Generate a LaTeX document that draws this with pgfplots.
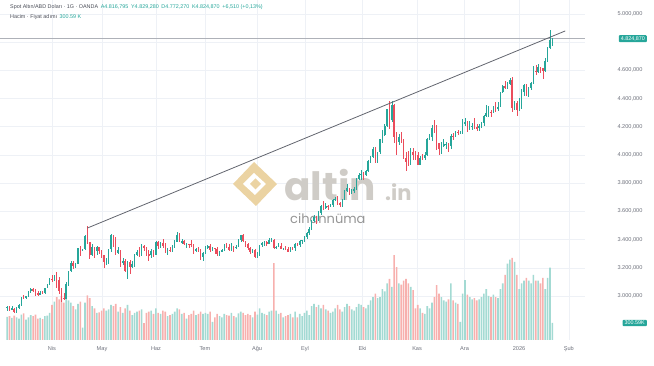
\documentclass[border=0pt]{standalone}
\usepackage{fontspec}
\setmainfont{Liberation Sans}
\newfontfamily\poppins{Poppins}
\usepackage{pgfplots}
\pgfplotsset{compat=1.18}
\usepackage{pgfplotstable}

\definecolor{upc}{HTML}{26A69A}
\definecolor{dnc}{HTML}{EB4D5C}
\definecolor{volup}{HTML}{A3DAD3}
\definecolor{voldn}{HTML}{F7B0AE}
\definecolor{gridc}{HTML}{EEF1F6}
\definecolor{lblc}{HTML}{6E717C}
\definecolor{hdr}{HTML}{4A4D57}
\definecolor{trendc}{HTML}{62656E}
\definecolor{pline}{HTML}{AEB1B8}
\definecolor{wmgray}{HTML}{CFCCC7}
\definecolor{wmgold}{HTML}{EBD3A2}
\definecolor{wmtext}{HTML}{959595}

\pgfplotstableread{
k O H L C V
-19 2918 2928 2894 2920 410
-18 2920 2930 2897 2910 420
-17 2910 2930 2899 2911 390
-16 2911 2914 2880 2889 430
-15 2889 2922 2881 2916 400
-14 2916 2940 2906 2934 380
-13 2934 2990 2932 2988 450
-12 2988 3005 2977 2984 470
-11 2984 3002 2982 3001 360
-10 3001 3038 2996 3034 400
-9 3034 3057 3022 3048 440
-8 3048 3058 3025 3044 420
-7 3044 3048 2999 3023 450
-6 3023 3036 3003 3011 380
-5 3011 3035 3004 3020 390
-4 3020 3033 3011 3019 370
-3 3019 3060 3015 3057 420
-2 3057 3087 3056 3085 430
-1 3085 3128 3076 3123 480
0 3123 3149 3100 3113 620
1 3113 3149 3105 3134 680
2 3134 3167 3054 3114 760
3 3114 3136 3015 3037 720
4 3037 3055 2957 2982 780
5 2985 3020 2970 2982 660
6 2982 3099 2980 3082 740
7 3082 3176 3073 3175 700
8 3175 3245 3172 3237 660
9 3237 3245 3194 3210 600
10 3210 3234 3202 3228 540
11 3228 3343 3225 3342 640
12 3342 3357 3284 3327 680
13 3327 3334 3318 3330 220
14 3330 3430 3324 3424 660
15 3424 3500 3367 3381 790
16 3381 3386 3260 3288 740
17 3288 3368 3287 3349 600
18 3349 3350 3268 3319 560
19 3319 3352 3293 3345 480
20 3345 3348 3298 3317 490
21 3317 3328 3268 3288 520
22 3288 3290 3202 3239 560
23 3239 3270 3223 3241 520
24 3241 3335 3230 3334 540
25 3334 3438 3315 3431 620
26 3431 3435 3347 3365 600
27 3365 3415 3290 3305 640
28 3305 3346 3295 3325 500
29 3325 3328 3208 3236 580
30 3236 3266 3220 3249 480
31 3249 3265 3170 3178 560
32 3178 3245 3120 3240 620
33 3240 3253 3155 3203 520
34 3203 3250 3198 3230 440
35 3230 3295 3205 3289 480
36 3289 3325 3285 3314 500
37 3314 3345 3277 3294 520
38 3294 3366 3287 3357 540
39 3357 3365 3320 3342 300
40 3342 3350 3285 3300 480
41 3300 3325 3245 3288 500
42 3288 3330 3271 3318 520
43 3318 3325 3278 3289 460
44 3289 3392 3289 3381 560
45 3381 3392 3333 3353 480
46 3353 3385 3343 3373 460
47 3373 3403 3339 3352 520
48 3352 3375 3307 3310 500
49 3310 3338 3293 3325 420
50 3325 3349 3314 3323 440
51 3323 3360 3312 3354 460
52 3354 3399 3340 3386 500
53 3386 3452 3384 3432 560
54 3432 3445 3384 3385 540
55 3385 3404 3368 3388 460
56 3388 3396 3363 3369 480
57 3369 3375 3339 3370 380
58 3370 3372 3340 3368 440
59 3368 3398 3347 3366 460
60 3366 3371 3295 3323 520
61 3323 3341 3312 3332 440
62 3332 3350 3309 3328 460
63 3328 3330 3255 3274 500
64 3274 3309 3247 3303 460
65 3303 3358 3297 3338 480
66 3338 3365 3333 3357 460
67 3357 3366 3311 3326 500
68 3326 3345 3322 3336 320
69 3338 3341 3296 3336 400
70 3336 3346 3287 3301 460
71 3301 3320 3283 3313 420
72 3313 3330 3310 3325 400
73 3325 3368 3322 3355 460
74 3355 3375 3341 3344 440
75 3344 3366 3320 3324 430
76 3324 3377 3319 3347 480
77 3347 3352 3310 3338 420
78 3338 3361 3332 3350 400
79 3350 3401 3344 3397 470
80 3397 3433 3383 3431 500
81 3431 3439 3381 3387 480
82 3387 3393 3351 3368 440
83 3368 3373 3325 3337 460
84 3337 3345 3301 3314 440
85 3314 3334 3308 3326 400
86 3326 3334 3268 3275 500
87 3275 3315 3268 3289 450
88 3289 3363 3281 3360 560
89 3360 3385 3347 3373 480
90 3373 3390 3354 3380 460
91 3380 3393 3358 3369 440
92 3369 3409 3367 3396 500
93 3396 3409 3381 3398 520
94 3398 3404 3336 3342 1360
95 3342 3358 3331 3348 520
96 3348 3375 3345 3356 460
97 3356 3375 3330 3335 480
98 3335 3339 3323 3336 400
99 3336 3358 3323 3332 420
100 3332 3345 3311 3315 440
101 3315 3351 3311 3348 460
102 3348 3351 3324 3339 400
103 3339 3379 3321 3372 500
104 3372 3376 3352 3365 400
105 3365 3394 3351 3393 460
106 3393 3398 3370 3397 420
107 3397 3424 3386 3416 480
108 3416 3454 3403 3448 520
109 3448 3490 3436 3476 440
110 3476 3540 3469 3533 600
111 3533 3578 3528 3560 640
112 3560 3565 3512 3545 580
113 3545 3600 3534 3587 620
114 3587 3646 3578 3636 560
115 3636 3674 3613 3626 620
116 3626 3658 3620 3641 540
117 3641 3645 3610 3634 520
118 3634 3656 3630 3643 480
119 3643 3685 3633 3679 500
120 3679 3703 3671 3690 560
121 3690 3707 3646 3660 620
122 3660 3665 3628 3644 540
123 3644 3688 3633 3685 500
124 3685 3750 3680 3746 580
125 3746 3792 3737 3763 640
126 3763 3766 3717 3736 600
127 3736 3762 3722 3749 540
128 3749 3776 3729 3760 520
129 3760 3835 3755 3833 580
130 3833 3872 3820 3858 640
131 3858 3895 3825 3866 620
132 3866 3876 3820 3857 580
133 3857 3897 3850 3886 560
134 3886 3961 3882 3960 620
135 3960 3991 3940 3985 700
136 3985 4060 3980 4040 760
137 4040 4059 3945 3975 820
138 3975 4022 3945 4018 740
139 4018 4117 4005 4110 760
140 4110 4180 4083 4143 900
141 4143 4217 4137 4208 860
142 4208 4329 4200 4326 1000
143 4326 4380 4186 4251 1080
144 4251 4381 4236 4356 940
145 4356 4359 4082 4125 1500
146 4125 4162 4003 4095 1290
147 4095 4147 4068 4126 1000
148 4126 4161 4084 4111 980
149 4111 4115 3970 3982 1050
150 3982 4019 3886 3952 1080
151 3952 4030 3920 3931 1000
152 3931 4047 3929 4024 940
153 4024 4051 3967 4002 880
154 4002 4030 3962 4001 560
155 4001 4018 3928 3932 620
156 3932 3996 3930 3980 560
157 3980 4004 3965 3977 480
158 3977 4020 3968 4001 460
159 4001 4119 3996 4116 600
160 4116 4149 4106 4128 560
161 4128 4211 4100 4195 660
162 4195 4245 4158 4172 760
163 4172 4211 4032 4084 970
164 4084 4088 3998 4044 820
165 4044 4091 4010 4067 760
166 4067 4110 4055 4077 700
167 4077 4095 4040 4078 680
168 4078 4083 4022 4065 720
169 4065 4150 4042 4134 1000
170 4134 4156 4108 4131 700
171 4131 4171 4125 4163 660
172 4163 4175 4139 4157 640
173 4157 4168 4150 4160 320
174 4160 4257 4152 4239 820
175 4222 4264 4206 4232 1060
176 4232 4240 4162 4186 800
177 4186 4242 4180 4206 760
178 4206 4227 4175 4208 720
179 4208 4259 4185 4198 740
180 4198 4217 4170 4189 700
181 4189 4218 4168 4208 720
182 4208 4236 4192 4228 760
183 4228 4285 4205 4279 820
184 4279 4354 4269 4300 900
185 4300 4350 4270 4305 780
186 4305 4317 4271 4303 760
187 4303 4345 4300 4339 800
188 4339 4375 4308 4332 760
189 4332 4375 4315 4340 740
190 4340 4448 4338 4444 900
191 4444 4498 4440 4488 1000
192 4488 4525 4466 4480 1150
193 4480 4520 4470 4505 1350
194 4505 4549 4495 4532 1420
195 4532 4550 4303 4332 1450
196 4332 4385 4320 4372 1380
197 4372 4380 4275 4318 1150
198 4318 4402 4310 4330 900
199 4330 4465 4325 4447 1000
200 4447 4500 4420 4495 1050
201 4495 4500 4420 4455 1100
202 4455 4480 4410 4478 1050
203 4478 4518 4458 4510 1000
204 4510 4630 4505 4598 1150
205 4598 4635 4570 4588 1050
206 4588 4642 4580 4625 1050
207 4625 4627 4580 4615 1000
208 4615 4620 4536 4595 1100
209 4595 4690 4590 4670 900
210 4670 4766 4660 4760 1100
211 4760 4888 4750 4818 1280
212 4816.795 4829.28 4772.27 4824.87 300.59
}\candles

\pgfplotsset{tvbase/.style={at={(0pt,26pt)}, anchor=south west, scale only axis,
  width=585pt, height=340pt, xmin=-22.03, xmax=225.85, clip=false}}

\begin{document}
\begin{tikzpicture}[x=1pt,y=1pt]
\path[use as bounding box] (0,0) rectangle (654,366);

% grid and tick labels
\begin{axis}[tvbase, ymin=2688, ymax=5099.3,
  axis line style={draw=none}, major tick length=0pt,
  ytick={3000,3200,3400,3600,3800,4000,4200,4400,4600,5000},
  yticklabels={{3.000,000},{3.200,000},{3.400,000},{3.600,000},{3.800,000},{4.000,000},{4.200,000},{4.400,000},{4.600,000},{5.000,000}},
  extra y ticks={4800}, extra y tick labels={},
  extra y tick style={grid=major},
  yticklabel pos=right,
  xtick={0,21.2,44.1,64.8,86.9,107.2,131.6,154.7,174.8,197.9,219},
  xticklabels={Nis,May,Haz,Tem,Ağu,Eyl,Eki,Kas,Ara,2026,Şub},
  grid=major, major grid style={draw=gridc, line width=0.6pt},
  tick label style={font=\fontsize{5.6}{6}\selectfont, text=lblc},
  yticklabel style={anchor=east, xshift=61pt},
  xticklabel style={yshift=-3pt}]
\addplot[draw=none] coordinates {(0,3000)};
\end{axis}

% watermark
\fill[wmgold] (233,182)--(254,204)--(277,182)--(256,160)--cycle;
\fill[white] (243,182)--(254,193)--(266,182)--(255,171)--cycle;
\fill[wmgold] (250,182)--(255.5,187.5)--(261,182)--(255.5,176.5)--cycle;
\node[anchor=base west, inner sep=0, text=wmgray, font=\poppins\bfseries\fontsize{39}{39}\selectfont] at (284,165) {altin};
\node[anchor=base west, inner sep=0, text=wmgray, font=\poppins\bfseries\fontsize{21}{21}\selectfont] at (385,165) {.in};
\node[anchor=base west, inner sep=0, text=wmtext, font=\poppins\fontsize{13}{14}\selectfont] at (290,142) {cihannüma};

% volume
\begin{axis}[tvbase, ymin=0, ymax=6011, hide axis]
\addplot[ybar, bar width=1.6pt, bar shift=0pt, fill=volup, draw=none]
  table[x=k, y expr={\thisrow{C}<\thisrow{O} ? nan : \thisrow{V}}] {\candles};
\addplot[ybar, bar width=1.6pt, bar shift=0pt, fill=voldn, draw=none]
  table[x=k, y expr={\thisrow{C}<\thisrow{O} ? \thisrow{V} : nan}] {\candles};
\node[fill=upc, text=white, rounded corners=1pt, inner xsep=2pt, inner ysep=1.3pt,
  font=\fontsize{5.4}{6}\selectfont, anchor=east] at ([xshift=62pt]axis cs:225.85,300.59) {300.59K};
\end{axis}

% price
\begin{axis}[tvbase, ymin=2688, ymax=5099.3, hide axis]
\addplot[pline, line width=0.5pt] coordinates {(-22.03,4824.87) (225.85,4824.87)};
\addplot[draw=none, mark=none, error bars/.cd, y dir=both, y explicit, error mark=none,
  error bar style={draw=upc, line width=0.55pt}]
  table[x=k, y expr={\thisrow{C}<\thisrow{O} ? nan : 0.5*(\thisrow{H}+\thisrow{L})},
        y error expr={0.5*(\thisrow{H}-\thisrow{L})}] {\candles};
\addplot[draw=none, mark=none, error bars/.cd, y dir=both, y explicit, error mark=none,
  error bar style={draw=dnc, line width=0.55pt}]
  table[x=k, y expr={\thisrow{C}<\thisrow{O} ? 0.5*(\thisrow{H}+\thisrow{L}) : nan},
        y error expr={0.5*(\thisrow{H}-\thisrow{L})}] {\candles};
\addplot[draw=none, mark=none, error bars/.cd, y dir=both, y explicit, error mark=none,
  error bar style={draw=upc, line width=1.5pt}]
  table[x=k, y expr={\thisrow{C}<\thisrow{O} ? nan : 0.5*(\thisrow{O}+\thisrow{C})},
        y error expr={max(0.5*abs(\thisrow{C}-\thisrow{O}),1.5)}] {\candles};
\addplot[draw=none, mark=none, error bars/.cd, y dir=both, y explicit, error mark=none,
  error bar style={draw=dnc, line width=1.5pt}]
  table[x=k, y expr={\thisrow{C}<\thisrow{O} ? 0.5*(\thisrow{O}+\thisrow{C}) : nan},
        y error expr={max(0.5*abs(\thisrow{C}-\thisrow{O}),1.5)}] {\candles};
\addplot[trendc, line width=0.8pt] coordinates {(15,3482) (217.5,4880)};
\node[fill=upc, text=white, rounded corners=1pt, inner xsep=2pt, inner ysep=1.3pt,
  font=\fontsize{5.4}{6}\selectfont, anchor=east] at ([xshift=62pt]axis cs:225.85,4824.87) {4.824,870};
\end{axis}

% header
\node[anchor=base west, inner sep=0, font=\fontsize{5.4}{6}\selectfont] at (10,357)
  {\textcolor{hdr}{Spot Altın/ABD Doları · 1G · OANDA}\enspace
   \textcolor{upc}{A4.816,795\enspace Y4.829,280\enspace D4.772,270\enspace K4.824,870\enspace +6,510 (+0,13\%)}};
\node[anchor=base west, inner sep=0, font=\fontsize{5.4}{6}\selectfont] at (10,347)
  {\textcolor{hdr}{Hacim · Fiyat adımı}\enspace\textcolor{upc}{300.59 K}};
\end{tikzpicture}
\end{document}
